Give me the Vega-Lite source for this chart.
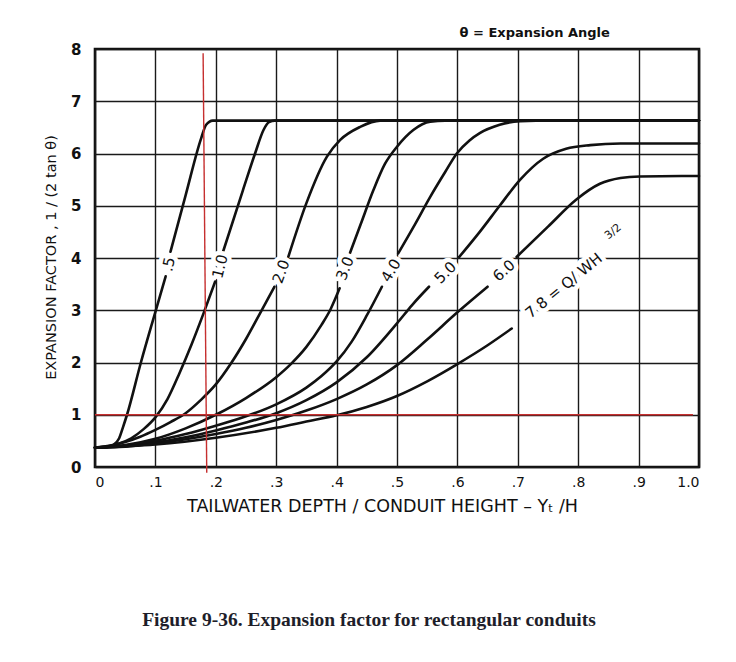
{
  "$schema": "https://vega.github.io/schema/vega-lite/v6.json",
  "width": 604,
  "height": 418,
  "autosize": "none",
  "padding": {"left": 95, "top": 49, "right": 37, "bottom": 195},
  "background": "white",
  "title": {
    "text": "Figure 9-36.  Expansion factor for rectangular conduits",
    "orient": "bottom",
    "anchor": "middle",
    "dx": -28,
    "offset": 96,
    "font": "Liberation Serif",
    "fontSize": 19.5,
    "fontWeight": "bold",
    "color": "#1e1e2a"
  },
  "config": {
    "view": {"stroke": "#111", "strokeWidth": 2.6},
    "axis": {
      "domain": false,
      "ticks": false,
      "grid": true,
      "gridColor": "#1a1a1a",
      "gridWidth": 1.4,
      "gridOpacity": 1,
      "labelFont": "DejaVu Sans",
      "labelColor": "#111",
      "titleFont": "DejaVu Sans",
      "titleColor": "#111",
      "titleFontWeight": "normal"
    }
  },
  "datasets": {
    "curves": [
      {"curve": "0.5", "part": "a", "x": 0, "y": 0.37},
      {"curve": "0.5", "part": "a", "x": 0.02, "y": 0.38},
      {"curve": "0.5", "part": "a", "x": 0.03, "y": 0.42},
      {"curve": "0.5", "part": "a", "x": 0.04, "y": 0.55},
      {"curve": "0.5", "part": "a", "x": 0.046, "y": 0.75},
      {"curve": "0.5", "part": "a", "x": 0.053, "y": 1.0},
      {"curve": "0.5", "part": "a", "x": 0.076, "y": 2.0},
      {"curve": "0.5", "part": "a", "x": 0.1, "y": 2.97},
      {"curve": "0.5", "part": "a", "x": 0.117, "y": 3.65},
      {"curve": "0.5", "part": "b", "x": 0.125, "y": 4.12},
      {"curve": "0.5", "part": "b", "x": 0.15, "y": 5.2},
      {"curve": "0.5", "part": "b", "x": 0.176, "y": 6.3},
      {"curve": "0.5", "part": "b", "x": 0.184, "y": 6.55},
      {"curve": "0.5", "part": "b", "x": 0.195, "y": 6.63},
      {"curve": "0.5", "part": "b", "x": 1.0, "y": 6.63},
      {"curve": "1.0", "part": "a", "x": 0, "y": 0.37},
      {"curve": "1.0", "part": "a", "x": 0.02, "y": 0.39},
      {"curve": "1.0", "part": "a", "x": 0.04, "y": 0.45},
      {"curve": "1.0", "part": "a", "x": 0.06, "y": 0.55},
      {"curve": "1.0", "part": "a", "x": 0.08, "y": 0.72},
      {"curve": "1.0", "part": "a", "x": 0.1, "y": 0.95},
      {"curve": "1.0", "part": "a", "x": 0.12, "y": 1.3},
      {"curve": "1.0", "part": "a", "x": 0.14, "y": 1.8},
      {"curve": "1.0", "part": "a", "x": 0.16, "y": 2.35},
      {"curve": "1.0", "part": "a", "x": 0.18, "y": 2.95},
      {"curve": "1.0", "part": "a", "x": 0.199, "y": 3.55},
      {"curve": "1.0", "part": "b", "x": 0.212, "y": 4.12},
      {"curve": "1.0", "part": "b", "x": 0.245, "y": 5.3},
      {"curve": "1.0", "part": "b", "x": 0.265, "y": 6.0},
      {"curve": "1.0", "part": "b", "x": 0.279, "y": 6.45},
      {"curve": "1.0", "part": "b", "x": 0.288, "y": 6.6},
      {"curve": "1.0", "part": "b", "x": 0.298, "y": 6.63},
      {"curve": "1.0", "part": "b", "x": 1.0, "y": 6.63},
      {"curve": "2.0", "part": "a", "x": 0, "y": 0.37},
      {"curve": "2.0", "part": "a", "x": 0.025, "y": 0.41},
      {"curve": "2.0", "part": "a", "x": 0.05, "y": 0.48},
      {"curve": "2.0", "part": "a", "x": 0.075, "y": 0.58},
      {"curve": "2.0", "part": "a", "x": 0.1, "y": 0.71},
      {"curve": "2.0", "part": "a", "x": 0.125, "y": 0.86},
      {"curve": "2.0", "part": "a", "x": 0.15, "y": 1.03},
      {"curve": "2.0", "part": "a", "x": 0.175, "y": 1.28},
      {"curve": "2.0", "part": "a", "x": 0.2, "y": 1.58},
      {"curve": "2.0", "part": "a", "x": 0.225, "y": 1.98},
      {"curve": "2.0", "part": "a", "x": 0.25, "y": 2.45},
      {"curve": "2.0", "part": "a", "x": 0.275, "y": 2.98},
      {"curve": "2.0", "part": "a", "x": 0.297, "y": 3.45},
      {"curve": "2.0", "part": "b", "x": 0.32, "y": 4.02},
      {"curve": "2.0", "part": "b", "x": 0.35, "y": 5.05},
      {"curve": "2.0", "part": "b", "x": 0.384, "y": 5.94},
      {"curve": "2.0", "part": "b", "x": 0.406, "y": 6.26},
      {"curve": "2.0", "part": "b", "x": 0.439, "y": 6.51},
      {"curve": "2.0", "part": "b", "x": 0.472, "y": 6.63},
      {"curve": "2.0", "part": "b", "x": 1.0, "y": 6.63},
      {"curve": "3.0", "part": "a", "x": 0, "y": 0.37},
      {"curve": "3.0", "part": "a", "x": 0.05, "y": 0.42},
      {"curve": "3.0", "part": "a", "x": 0.1, "y": 0.54},
      {"curve": "3.0", "part": "a", "x": 0.15, "y": 0.74},
      {"curve": "3.0", "part": "a", "x": 0.2, "y": 1.0},
      {"curve": "3.0", "part": "a", "x": 0.25, "y": 1.32},
      {"curve": "3.0", "part": "a", "x": 0.3, "y": 1.72},
      {"curve": "3.0", "part": "a", "x": 0.325, "y": 1.98},
      {"curve": "3.0", "part": "a", "x": 0.35, "y": 2.3},
      {"curve": "3.0", "part": "a", "x": 0.375, "y": 2.72},
      {"curve": "3.0", "part": "a", "x": 0.39, "y": 3.02},
      {"curve": "3.0", "part": "a", "x": 0.405, "y": 3.42},
      {"curve": "3.0", "part": "b", "x": 0.422, "y": 4.09},
      {"curve": "3.0", "part": "b", "x": 0.44, "y": 4.65},
      {"curve": "3.0", "part": "b", "x": 0.461, "y": 5.3},
      {"curve": "3.0", "part": "b", "x": 0.48, "y": 5.8},
      {"curve": "3.0", "part": "b", "x": 0.5, "y": 6.13},
      {"curve": "3.0", "part": "b", "x": 0.527, "y": 6.45},
      {"curve": "3.0", "part": "b", "x": 0.555, "y": 6.61},
      {"curve": "3.0", "part": "b", "x": 0.58, "y": 6.63},
      {"curve": "3.0", "part": "b", "x": 1.0, "y": 6.63},
      {"curve": "4.0", "part": "a", "x": 0, "y": 0.37},
      {"curve": "4.0", "part": "a", "x": 0.05, "y": 0.41},
      {"curve": "4.0", "part": "a", "x": 0.1, "y": 0.5},
      {"curve": "4.0", "part": "a", "x": 0.15, "y": 0.63},
      {"curve": "4.0", "part": "a", "x": 0.2, "y": 0.79},
      {"curve": "4.0", "part": "a", "x": 0.25, "y": 0.97},
      {"curve": "4.0", "part": "a", "x": 0.3, "y": 1.2},
      {"curve": "4.0", "part": "a", "x": 0.35, "y": 1.52},
      {"curve": "4.0", "part": "a", "x": 0.375, "y": 1.74},
      {"curve": "4.0", "part": "a", "x": 0.4, "y": 2.02},
      {"curve": "4.0", "part": "a", "x": 0.425, "y": 2.4},
      {"curve": "4.0", "part": "a", "x": 0.45, "y": 2.9},
      {"curve": "4.0", "part": "a", "x": 0.475, "y": 3.45},
      {"curve": "4.0", "part": "b", "x": 0.502, "y": 4.09},
      {"curve": "4.0", "part": "b", "x": 0.53, "y": 4.65},
      {"curve": "4.0", "part": "b", "x": 0.555, "y": 5.17},
      {"curve": "4.0", "part": "b", "x": 0.58, "y": 5.65},
      {"curve": "4.0", "part": "b", "x": 0.599, "y": 6.0},
      {"curve": "4.0", "part": "b", "x": 0.62, "y": 6.25},
      {"curve": "4.0", "part": "b", "x": 0.637, "y": 6.39},
      {"curve": "4.0", "part": "b", "x": 0.67, "y": 6.55},
      {"curve": "4.0", "part": "b", "x": 0.704, "y": 6.62},
      {"curve": "4.0", "part": "b", "x": 0.73, "y": 6.63},
      {"curve": "4.0", "part": "b", "x": 1.0, "y": 6.63},
      {"curve": "5.0", "part": "a", "x": 0, "y": 0.37},
      {"curve": "5.0", "part": "a", "x": 0.05, "y": 0.4},
      {"curve": "5.0", "part": "a", "x": 0.1, "y": 0.47},
      {"curve": "5.0", "part": "a", "x": 0.15, "y": 0.57},
      {"curve": "5.0", "part": "a", "x": 0.2, "y": 0.7},
      {"curve": "5.0", "part": "a", "x": 0.25, "y": 0.85},
      {"curve": "5.0", "part": "a", "x": 0.3, "y": 1.03},
      {"curve": "5.0", "part": "a", "x": 0.35, "y": 1.28},
      {"curve": "5.0", "part": "a", "x": 0.4, "y": 1.62},
      {"curve": "5.0", "part": "a", "x": 0.45, "y": 2.1},
      {"curve": "5.0", "part": "a", "x": 0.5, "y": 2.75},
      {"curve": "5.0", "part": "a", "x": 0.525, "y": 3.1},
      {"curve": "5.0", "part": "a", "x": 0.553, "y": 3.45},
      {"curve": "5.0", "part": "b", "x": 0.603, "y": 4.02},
      {"curve": "5.0", "part": "b", "x": 0.637, "y": 4.5},
      {"curve": "5.0", "part": "b", "x": 0.67, "y": 5.0},
      {"curve": "5.0", "part": "b", "x": 0.704, "y": 5.5},
      {"curve": "5.0", "part": "b", "x": 0.742, "y": 5.9},
      {"curve": "5.0", "part": "b", "x": 0.78, "y": 6.09},
      {"curve": "5.0", "part": "b", "x": 0.82, "y": 6.16},
      {"curve": "5.0", "part": "b", "x": 0.87, "y": 6.19},
      {"curve": "5.0", "part": "b", "x": 1.0, "y": 6.19},
      {"curve": "6.0", "part": "a", "x": 0, "y": 0.37},
      {"curve": "6.0", "part": "a", "x": 0.05, "y": 0.39},
      {"curve": "6.0", "part": "a", "x": 0.1, "y": 0.45},
      {"curve": "6.0", "part": "a", "x": 0.15, "y": 0.53},
      {"curve": "6.0", "part": "a", "x": 0.2, "y": 0.63},
      {"curve": "6.0", "part": "a", "x": 0.25, "y": 0.75},
      {"curve": "6.0", "part": "a", "x": 0.3, "y": 0.9},
      {"curve": "6.0", "part": "a", "x": 0.35, "y": 1.08},
      {"curve": "6.0", "part": "a", "x": 0.4, "y": 1.3},
      {"curve": "6.0", "part": "a", "x": 0.45, "y": 1.58},
      {"curve": "6.0", "part": "a", "x": 0.5, "y": 1.95},
      {"curve": "6.0", "part": "a", "x": 0.55, "y": 2.44},
      {"curve": "6.0", "part": "a", "x": 0.6, "y": 2.96},
      {"curve": "6.0", "part": "a", "x": 0.65, "y": 3.45},
      {"curve": "6.0", "part": "b", "x": 0.698, "y": 4.02},
      {"curve": "6.0", "part": "b", "x": 0.75, "y": 4.6},
      {"curve": "6.0", "part": "b", "x": 0.797, "y": 5.12},
      {"curve": "6.0", "part": "b", "x": 0.836, "y": 5.42},
      {"curve": "6.0", "part": "b", "x": 0.87, "y": 5.53},
      {"curve": "6.0", "part": "b", "x": 0.902, "y": 5.56},
      {"curve": "6.0", "part": "b", "x": 1.0, "y": 5.57},
      {"curve": "7-8", "part": "a", "x": 0, "y": 0.37},
      {"curve": "7-8", "part": "a", "x": 0.1, "y": 0.43},
      {"curve": "7-8", "part": "a", "x": 0.2, "y": 0.56},
      {"curve": "7-8", "part": "a", "x": 0.3, "y": 0.75},
      {"curve": "7-8", "part": "a", "x": 0.35, "y": 0.87},
      {"curve": "7-8", "part": "a", "x": 0.4, "y": 0.99},
      {"curve": "7-8", "part": "a", "x": 0.45, "y": 1.15},
      {"curve": "7-8", "part": "a", "x": 0.5, "y": 1.36},
      {"curve": "7-8", "part": "a", "x": 0.55, "y": 1.64},
      {"curve": "7-8", "part": "a", "x": 0.6, "y": 1.97},
      {"curve": "7-8", "part": "a", "x": 0.65, "y": 2.33},
      {"curve": "7-8", "part": "a", "x": 0.69, "y": 2.65}
    ]
  },
  "encoding": {
    "x": {
      "field": "x", "type": "quantitative",
      "scale": {"domain": [0, 1], "nice": false, "zero": false},
      "axis": {
        "values": [0, 0.1, 0.2, 0.3, 0.4, 0.5, 0.6, 0.7, 0.8, 0.9, 1.0],
        "labelExpr": "datum.value == 0 ? '0' : datum.value == 1 ? '1.0' : replace(format(datum.value, '.1f'), '0.', '.')",
        "labelFontSize": 14,
        "labelPadding": 8,
        "title": "TAILWATER  DEPTH / CONDUIT  HEIGHT – Yₜ /H",
        "titleFontSize": 17.5,
        "titlePadding": 8,
        "titleX": 287
      }
    },
    "y": {
      "field": "y", "type": "quantitative",
      "scale": {"domain": [0, 8], "nice": false},
      "axis": {
        "values": [0, 1, 2, 3, 4, 5, 6, 7, 8],
        "labelFontSize": 15,
        "labelFontWeight": "bold",
        "labelPadding": 14,
        "title": "EXPANSION  FACTOR ,  1 / (2 tan θ)",
        "titleFontSize": 14.5,
        "titlePadding": 12,
        "titleY": 208
      }
    },
    "text": {"field": "label"}
  },
  "layer": [
    {
      "data": {"name": "curves"},
      "mark": {"type": "line", "color": "#111", "strokeWidth": 2.6, "interpolate": "monotone", "strokeCap": "round"},
      "encoding": {"detail": [{"field": "curve"}, {"field": "part"}]}
    },
    {
      "data": {"values": [
        {"x": 0.179, "x2": 0.185, "y": 7.92, "y2": -0.11},
        {"x": 0.0, "x2": 0.99, "y": 1.0, "y2": 1.0}
      ]},
      "mark": {"type": "rule", "color": "#c62f2f", "strokeWidth": 1.4},
      "encoding": {"x2": {"field": "x2"}, "y2": {"field": "y2"}}
    },
    {
      "data": {"values": [{"label": ".5", "x": 0.122, "y": 3.88}]},
      "layer": [
        {"mark": {"type": "text", "angle": -78, "fontSize": 15, "font": "DejaVu Sans", "color": "white", "stroke": "white", "strokeWidth": 9, "strokeJoin": "round"}},
        {"mark": {"type": "text", "angle": -78, "fontSize": 15, "font": "DejaVu Sans", "color": "#111"}}
      ]
    },
    {
      "data": {"values": [{"label": "1.0", "x": 0.207, "y": 3.84}]},
      "layer": [
        {"mark": {"type": "text", "angle": -76, "fontSize": 15, "font": "DejaVu Sans", "color": "white", "stroke": "white", "strokeWidth": 9, "strokeJoin": "round"}},
        {"mark": {"type": "text", "angle": -76, "fontSize": 15, "font": "DejaVu Sans", "color": "#111"}}
      ]
    },
    {
      "data": {"values": [{"label": "2.0", "x": 0.308, "y": 3.74}]},
      "layer": [
        {"mark": {"type": "text", "angle": -70, "fontSize": 15, "font": "DejaVu Sans", "color": "white", "stroke": "white", "strokeWidth": 9, "strokeJoin": "round"}},
        {"mark": {"type": "text", "angle": -70, "fontSize": 15, "font": "DejaVu Sans", "color": "#111"}}
      ]
    },
    {
      "data": {"values": [{"label": "3.0", "x": 0.414, "y": 3.8}]},
      "layer": [
        {"mark": {"type": "text", "angle": -68, "fontSize": 15, "font": "DejaVu Sans", "color": "white", "stroke": "white", "strokeWidth": 9, "strokeJoin": "round"}},
        {"mark": {"type": "text", "angle": -68, "fontSize": 15, "font": "DejaVu Sans", "color": "#111"}}
      ]
    },
    {
      "data": {"values": [{"label": "4.0", "x": 0.49, "y": 3.76}]},
      "layer": [
        {"mark": {"type": "text", "angle": -60, "fontSize": 15, "font": "DejaVu Sans", "color": "white", "stroke": "white", "strokeWidth": 9, "strokeJoin": "round"}},
        {"mark": {"type": "text", "angle": -60, "fontSize": 15, "font": "DejaVu Sans", "color": "#111"}}
      ]
    },
    {
      "data": {"values": [{"label": "5.0", "x": 0.58, "y": 3.72}]},
      "layer": [
        {"mark": {"type": "text", "angle": -45, "fontSize": 15, "font": "DejaVu Sans", "color": "white", "stroke": "white", "strokeWidth": 9, "strokeJoin": "round"}},
        {"mark": {"type": "text", "angle": -45, "fontSize": 15, "font": "DejaVu Sans", "color": "#111"}}
      ]
    },
    {
      "data": {"values": [{"label": "6.0", "x": 0.677, "y": 3.76}]},
      "layer": [
        {"mark": {"type": "text", "angle": -42, "fontSize": 15, "font": "DejaVu Sans", "color": "white", "stroke": "white", "strokeWidth": 9, "strokeJoin": "round"}},
        {"mark": {"type": "text", "angle": -42, "fontSize": 15, "font": "DejaVu Sans", "color": "#111"}}
      ]
    },
    {
      "data": {"values": [{"label": "7  8 = Q/ WH", "x": 0.776, "y": 3.47}]},
      "layer": [
        {"mark": {"type": "text", "angle": -39, "fontSize": 15, "font": "DejaVu Sans", "color": "white", "stroke": "white", "strokeWidth": 9, "strokeJoin": "round"}},
        {"mark": {"type": "text", "angle": -39, "fontSize": 15, "font": "DejaVu Sans", "color": "#111"}}
      ]
    },
    {
      "data": {"values": [{"label": "3/2", "x": 0.858, "y": 4.5}]},
      "layer": [
        {"mark": {"type": "text", "angle": -39, "fontSize": 11, "font": "DejaVu Sans", "color": "white", "stroke": "white", "strokeWidth": 7, "strokeJoin": "round"}},
        {"mark": {"type": "text", "angle": -39, "fontSize": 11, "font": "DejaVu Sans", "color": "#111"}}
      ]
    },
    {
      "data": {"values": [{"label": "θ = Expansion Angle", "x": 0.728, "y": 8.31}]},
      "mark": {"type": "text", "fontSize": 13, "font": "DejaVu Sans", "fontWeight": "bold", "color": "#111"}
    }
  ]
}
